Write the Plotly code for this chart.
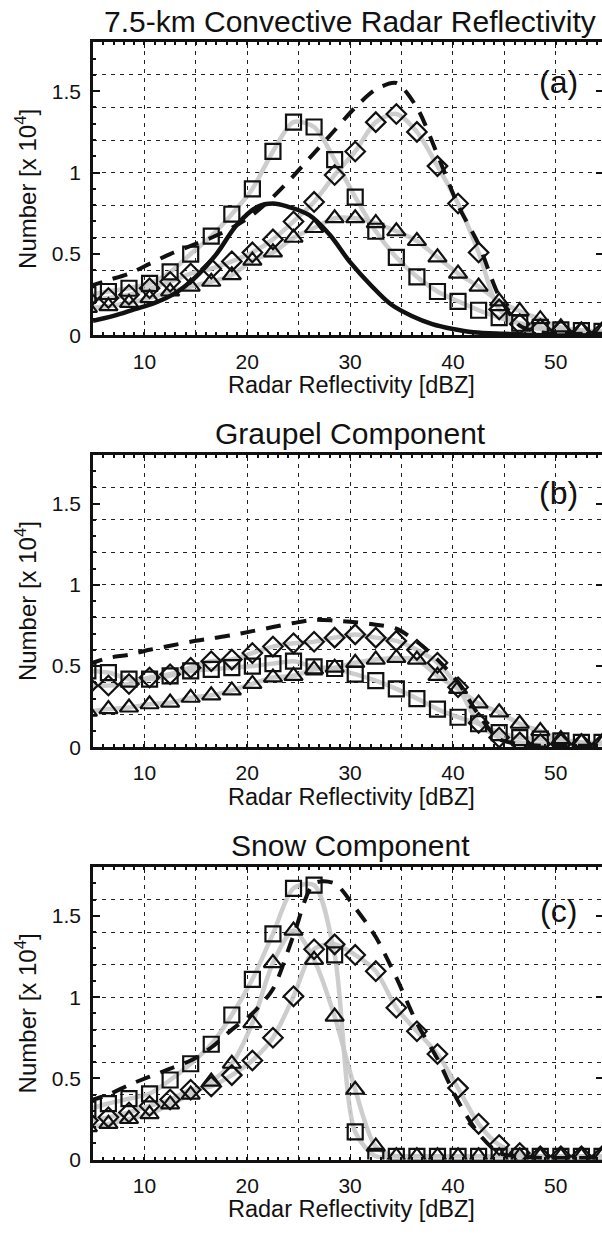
import plotly.graph_objects as go

# Bin centres of the reflectivity histograms [dBZ]
dbz = [4.5, 6.5, 8.5, 10.5, 12.5, 14.5, 16.5, 18.5, 20.5, 22.5, 24.5, 26.5, 28.5,
       30.5, 32.5, 34.5, 36.5, 38.5, 40.5, 42.5, 44.5, 46.5, 48.5, 50.5, 52.5, 54.5]

# (a) 7.5-km convective radar reflectivity  [x 10^4]
a_obs = [0.30, 0.34, 0.38, 0.44, 0.50, 0.55, 0.60, 0.66, 0.74, 0.85, 0.98, 1.12, 1.26,
         1.40, 1.51, 1.55, 1.40, 1.11, 0.80, 0.56, 0.24, 0.06, 0.02, 0.01, 0.01, 0.01]
a_sq = [0.25, 0.27, 0.29, 0.32, 0.39, 0.50, 0.61, 0.745, 0.90, 1.13, 1.31, 1.28, 1.08,
        0.85, 0.64, 0.48, 0.36, 0.27, 0.21, 0.155, 0.11, 0.075, 0.05, 0.035, 0.03, 0.025]
a_dm = [0.22, 0.23, 0.25, 0.29, 0.33, 0.38, 0.41, 0.455, 0.51, 0.59, 0.70, 0.82, 0.985,
        1.13, 1.31, 1.36, 1.25, 1.04, 0.81, 0.51, 0.16, 0.07, 0.04, 0.03, 0.02, 0.02]
a_tr = [0.17, 0.18, 0.20, 0.23, 0.27, 0.30, 0.33, 0.37, 0.46, 0.51, 0.60, 0.66, 0.72,
        0.72, 0.69, 0.64, 0.58, 0.48, 0.38, 0.30, 0.21, 0.15, 0.10, 0.05, 0.03, 0.02]
fit_x = [5, 7, 9, 11, 13, 15, 17, 19, 21, 22.5, 24, 26, 28, 30, 32, 34, 36, 38, 40,
         42, 45, 50, 55]
fit_y = [0.09, 0.12, 0.16, 0.20, 0.26, 0.36, 0.50, 0.68, 0.79, 0.81, 0.79, 0.74, 0.62,
         0.45, 0.31, 0.19, 0.12, 0.07, 0.04, 0.02, 0.01, 0.0, 0.0]

# (b) graupel component
b_obs = [0.51, 0.55, 0.57, 0.60, 0.625, 0.65, 0.67, 0.69, 0.715, 0.74, 0.765, 0.785, 0.78,
         0.77, 0.755, 0.73, 0.65, 0.54, 0.40, 0.20, 0.05, 0.02, 0.01, 0.01, 0.01, 0.01]
b_sq = [0.47, 0.46, 0.42, 0.42, 0.44, 0.47, 0.48, 0.49, 0.50, 0.515, 0.53, 0.495, 0.485,
        0.45, 0.41, 0.36, 0.30, 0.235, 0.185, 0.145, 0.09, 0.06, 0.05, 0.04, 0.03, 0.03]
b_dm = [0.38, 0.38, 0.39, 0.43, 0.45, 0.49, 0.53, 0.54, 0.58, 0.62, 0.64, 0.65, 0.675,
        0.695, 0.675, 0.655, 0.60, 0.52, 0.37, 0.15, 0.06, 0.03, 0.02, 0.02, 0.02, 0.02]
b_tr = [0.22, 0.235, 0.245, 0.265, 0.275, 0.305, 0.32, 0.35, 0.39, 0.43, 0.44, 0.48, 0.49,
        0.52, 0.54, 0.55, 0.54, 0.44, 0.36, 0.27, 0.215, 0.145, 0.10, 0.05, 0.03, 0.02]

# (c) snow component
c_obs = [0.36, 0.40, 0.46, 0.51, 0.56, 0.61, 0.69, 0.80, 0.90, 1.05, 1.38, 1.70, 1.70,
         1.55, 1.37, 1.12, 0.84, 0.62, 0.36, 0.16, 0.04, 0.02, 0.01, 0.01, 0.01, 0.01]
c_sq = [0.31, 0.345, 0.375, 0.405, 0.49, 0.59, 0.71, 0.89, 1.11, 1.39, 1.67, 1.69, 1.26,
        0.17, 0.02, 0.02, 0.02, 0.02, 0.02, 0.02, 0.02, 0.02, 0.02, 0.02, 0.02, 0.02]
c_dm = [0.24, 0.26, 0.29, 0.33, 0.37, 0.43, 0.45, 0.52, 0.61, 0.75, 1.005, 1.295, 1.325,
        1.26, 1.16, 0.935, 0.79, 0.65, 0.44, 0.22, 0.09, 0.04, 0.02, 0.02, 0.02, 0.02]
c_tr = [0.20, 0.22, 0.25, 0.28, 0.34, 0.40, 0.48, 0.59, 0.84, 1.21, 1.41, 1.23, 0.88,
        0.43, 0.08, 0.02, 0.02, 0.02, 0.02, 0.02, 0.02, 0.02, 0.02, 0.02, 0.02, 0.02]

titles = ["7.5-km Convective Radar Reflectivity", "Graupel Component", "Snow Component"]
labels = ["(a)", "(b)", "(c)"]
x_ticks = [10, 20, 30, 40, 50]
x_half = [15, 25, 35, 45]
y_ticks = [0, 0.5, 1, 1.5]
y_text = ["0", "0.5", "1", "1.5"]
y_grid = [0.2, 0.4, 0.6, 0.8, 1.0, 1.2, 1.4, 1.6]

panels = [
    dict(obs=a_obs, sq=a_sq, dm=a_dm, tr=a_tr, fit=True),
    dict(obs=b_obs, sq=b_sq, dm=b_dm, tr=b_tr, fit=False),
    dict(obs=c_obs, sq=c_sq, dm=c_dm, tr=c_tr, fit=False),
]

FONT = "Liberation Sans, Arial, Helvetica, sans-serif"
W, H = 602, 1235
ML = 93                      # left margin in px
PW = W - ML                  # plotting width in px
# pixel extents (top, bottom) of each plotting box
boxes = [(42.7, 338.5), (459.0, 754.0), (875.0, 1170.0)]


def px_x(px):
    return (px - ML) / PW


def px_y(py):
    return 1 - py / H


fig = go.Figure()
GRAY = "rgba(200,200,200,0.9)"
mk = dict(square=("square-open", 15), diamond=("diamond-open", 15),
          triangle=("triangle-up-open", 16))

for i, p in enumerate(panels):
    n = i + 1
    xa = "x" if n == 1 else f"x{n}"
    ya = "y" if n == 1 else f"y{n}"
    # smooth gray guides under the symbols
    for key in ("sq", "dm", "tr"):
        fig.add_trace(go.Scatter(x=dbz, y=p[key], xaxis=xa, yaxis=ya, mode="lines",
                                 line=dict(color=GRAY, width=4.5, shape="spline",
                                           smoothing=0.8),
                                 showlegend=False, hoverinfo="skip"))
    for key, name in (("sq", "square"), ("dm", "diamond"), ("tr", "triangle")):
        sym, size = mk[name]
        fig.add_trace(go.Scatter(x=dbz, y=p[key], xaxis=xa, yaxis=ya, mode="markers",
                                 marker=dict(symbol=sym, size=size, color="#111",
                                             line=dict(color="#111", width=2.2)),
                                 showlegend=False, hoverinfo="skip"))
    fig.add_trace(go.Scatter(x=dbz, y=p["obs"], xaxis=xa, yaxis=ya, mode="lines",
                             line=dict(color="#111", width=4, dash="15px,11px",
                                       shape="spline", smoothing=0.8),
                             showlegend=False, hoverinfo="skip"))
    if p["fit"]:
        fig.add_trace(go.Scatter(x=fit_x, y=fit_y, xaxis=xa, yaxis=ya, mode="lines",
                                 line=dict(color="#111", width=4.5, shape="spline",
                                           smoothing=1.0),
                                 showlegend=False, hoverinfo="skip"))
    # helper axes: dotted grid (every 0.2 / mid-decade) and right-hand tick marks
    fig.add_trace(go.Scatter(x=[], y=[], xaxis=xa, yaxis=f"y{3 + n}",
                             showlegend=False, hoverinfo="skip"))
    fig.add_trace(go.Scatter(x=[], y=[], xaxis=xa, yaxis=f"y{6 + n}",
                             showlegend=False, hoverinfo="skip"))
    fig.add_trace(go.Scatter(x=[], y=[], xaxis=f"x{3 + n}", yaxis=ya,
                             showlegend=False, hoverinfo="skip"))

layout = dict(
    width=W, height=H, margin=dict(l=ML, r=0, t=0, b=0),
    paper_bgcolor="white", plot_bgcolor="white",
    font=dict(family=FONT, color="#111"),
    showlegend=False, annotations=[],
)

grid_style = dict(gridcolor="#222", gridwidth=1, griddash="4px,5px")

for i in range(3):
    n = i + 1
    top, bot = boxes[i]
    dom = [px_y(bot), px_y(top)]
    xk = "xaxis" if n == 1 else f"xaxis{n}"
    yk = "yaxis" if n == 1 else f"yaxis{n}"
    ya = "y" if n == 1 else f"y{n}"
    xa = "x" if n == 1 else f"x{n}"
    layout[xk] = dict(
        domain=[0, 1], range=[5, 54.5], anchor=ya,
        tickmode="array", tickvals=x_ticks,
        ticks="inside", ticklen=6, tickwidth=1.2, tickcolor="#111",
        showline=True, linewidth=3, linecolor="#111", mirror="ticks",
        showgrid=True, zeroline=False, **grid_style,
        minor=dict(dtick=1, tick0=0, ticks="inside", ticklen=3, tickwidth=1.5,
                   tickcolor="#111", showgrid=False),
        tickfont=dict(size=21, family=FONT, color="#111"),
        ticklabelstandoff=5,
        fixedrange=True,
    )
    layout[f"xaxis{3 + n}"] = dict(
        overlaying=xa, anchor=ya, range=[5, 54.5], side="bottom",
        tickmode="array", tickvals=x_half, ticks="", showticklabels=False,
        showline=False, zeroline=False, showgrid=True, **grid_style,
        fixedrange=True,
    )
    layout[yk] = dict(
        domain=dom, range=[0, 1.8], anchor=xa,
        tickmode="array", tickvals=y_ticks, ticktext=y_text,
        ticks="inside", ticklen=7, tickwidth=1.5, tickcolor="#111",
        showline=True, linewidth=2.5, linecolor="#111", mirror=False,
        showgrid=False, zeroline=False,
        minor=dict(dtick=0.1, tick0=0, ticks="inside", ticklen=3, tickwidth=1.5,
                   tickcolor="#111", showgrid=False),
        tickfont=dict(size=21, family=FONT, color="#111"),
        ticklabelstandoff=5,
        fixedrange=True,
    )
    layout[f"yaxis{3 + n}"] = dict(
        overlaying=ya, anchor=xa, range=[0, 1.8], side="left",
        tickmode="array", tickvals=y_grid, ticks="", showticklabels=False,
        showline=False, zeroline=False, showgrid=True, **grid_style,
        fixedrange=True,
    )
    layout[f"yaxis{6 + n}"] = dict(
        overlaying=ya, anchor=xa, range=[0, 1.8], side="right",
        tickmode="array", tickvals=y_ticks, ticks="inside", ticklen=6,
        tickwidth=2, tickcolor="#111", showticklabels=False,
        showline=False, zeroline=False, showgrid=False, fixedrange=True,
    )
    mid = (top + bot) / 2
    ann = layout["annotations"]
    ann.append(dict(text=titles[i], xref="paper", yref="paper", x=px_x(350),
                    y=px_y(top - 21.5), xanchor="center", yanchor="middle",
                    showarrow=False, font=dict(size=30, family=FONT, color="#111")))
    ann.append(dict(text="Radar Reflectivity [dBZ]", xref="paper", yref="paper",
                    x=px_x(351), y=px_y(bot + 50), xanchor="center",
                    yanchor="middle", showarrow=False, borderpad=0,
                    font=dict(size=23.5, family=FONT, color="#111")))
    ann.append(dict(text="Number [x 10<sup>4</sup>]", xref="paper", yref="paper",
                    x=px_x(26), y=px_y(mid), xanchor="center", yanchor="middle",
                    textangle=-90, showarrow=False,
                    font=dict(size=24, family=FONT, color="#111")))
    ann.append(dict(text=labels[i], xref=f"{xa} domain", yref=f"{ya} domain",
                    x=0.915, y=[0.866, 0.871, 0.850][i], xanchor="center",
                    yanchor="middle", showarrow=False,
                    font=dict(size=32, family=FONT, color="#111")))

fig.update_layout(**layout)
fig.write_html("out.html", config={"displayModeBar": False})
